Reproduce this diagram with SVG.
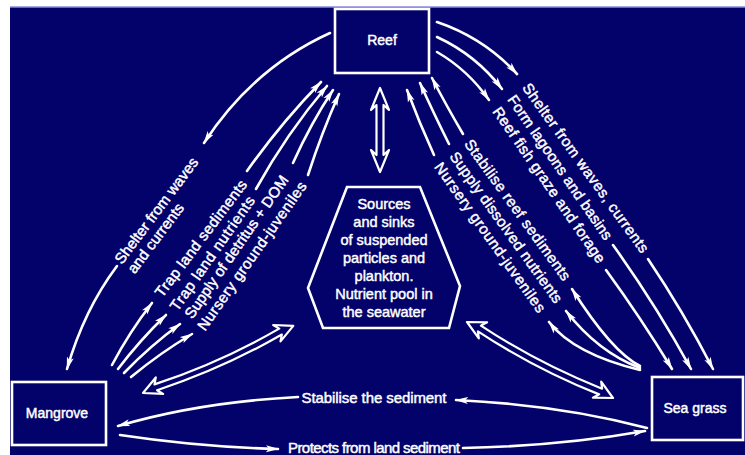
<svg xmlns="http://www.w3.org/2000/svg" width="745" height="455" viewBox="0 0 745 455">
<defs>
<marker id="ah" viewBox="0 0 13 8" refX="12" refY="4" markerWidth="13" markerHeight="8" markerUnits="userSpaceOnUse" orient="auto"><path d="M0,0.5 L13,4 L0,7.5 L3,4 Z" fill="#fff"/></marker>
<path id="dbl" d="M0,0 L18,-9 L14,-3.2 Q82,3.8 150.6,-3.2 L146.6,-9 L164.6,0 L146.6,9 L150.6,3.2 Q82,10.2 14,3.2 L18,9 Z"/>
</defs>
<style>
.box{fill:none;stroke:#fff;stroke-width:2.6}
.ln{fill:none;stroke:#fff;stroke-width:2.6;stroke-linecap:round;marker-end:url(#ah)}
.hol{fill:#03026a;stroke:#fff;stroke-width:2.2;stroke-linejoin:round}
text{font-family:"Liberation Sans",Arial,sans-serif;fill:#fff;stroke:#fff;stroke-width:0.45;font-size:15px}
.m{text-anchor:middle}
</style>
<rect x="0" y="0" width="745" height="455" fill="#fff"/>
<rect x="10" y="7" width="735" height="448" fill="#03026a"/>
<line x1="10" y1="7" x2="745" y2="7" stroke="#8a8ae0" stroke-width="1.5"/>

<g id="node-reef">
<rect class="box" x="335" y="9" width="94" height="64"/>
<text class="m" x="382" y="45" style="font-size:14px">Reef</text>
</g>
<g id="node-mangrove">
<rect class="box" x="12" y="382" width="94" height="63"/>
<text class="m" x="57" y="418" style="font-size:14px">Mangrove</text>
</g>
<g id="node-seagrass">
<rect class="box" x="652" y="377" width="91" height="63"/>
<text class="m" x="695" y="413" style="font-size:14px">Sea grass</text>
</g>
<g id="node-pool">
<polygon class="box" points="347,187 420,187 460,286 449,328 323,328 308,288"/>
<text class="m" style="font-size:14.5px"><tspan x="384" y="208.5">Sources</tspan><tspan x="384" y="226.5">and sinks</tspan><tspan x="384" y="244.5">of suspended</tspan><tspan x="384" y="262.5">particles and</tspan><tspan x="384" y="280.5">plankton.</tspan><tspan x="384" y="298.5">Nutrient pool in</tspan><tspan x="384" y="316.5">the seawater</tspan></text>
</g>

<g id="connectors">
<!-- hollow double arrows -->
<path class="hol" d="M380,88 L389,110 L383.5,105 L383.5,155 L389,150 L380,172 L371,150 L376.5,155 L376.5,105 L371,110 Z"/>
<use href="#dbl" class="hol" transform="translate(143,393) rotate(-24.07)"/>
<use href="#dbl" class="hol" transform="translate(467,322) rotate(27.5)"/>

<!-- Mangrove <-> Reef: shelter -->
<path class="ln" d="M330,33 Q253,68 204,143"/>
<path class="ln" d="M117,266 Q84,310 67,369"/>
<g transform="translate(118,262) rotate(-53.1)">
<text x="0" y="5">Shelter from waves</text>
<text x="0" y="21">and currents</text>
</g>

<!-- Mangrove -> Reef fan -->
<path class="ln" d="M112,365 Q130,331 152,303"/>
<path class="ln" d="M118,369 Q140,340 166,315"/>
<path class="ln" d="M124,373 Q150,346 180,324"/>
<path class="ln" d="M131,377 Q160,353 192,334"/>
<path class="ln" d="M247,171 Q281,123 321,82"/>
<path class="ln" d="M256,189 Q287,133 327,86"/>
<path class="ln" d="M293,163 Q311,123 333,90"/>
<path class="ln" d="M308,175 Q322,132 339,94"/>
<text class="m" transform="translate(201,238.5) rotate(-53.1)" y="5" textLength="142">Trap land sediments</text>
<text class="m" transform="translate(212.5,253.5) rotate(-55)" y="5" textLength="136">Trap land nutrients</text>
<text class="m" transform="translate(236.5,247) rotate(-55.3)" y="5" textLength="170">Supply of detritus + DOM</text>
<text class="m" transform="translate(252,256) rotate(-54.9)" y="5" textLength="178">Nursery ground-juveniles</text>

<!-- Reef -> Sea grass outer -->
<path class="ln" d="M437,22 Q484,38 517,74"/>
<path class="ln" d="M437,37 Q476,55 502,89"/>
<path class="ln" d="M437,52 Q468,70 489,100"/>
<path class="ln" d="M648,259 Q683,311 713,369"/>
<path class="ln" d="M613,245 Q656,305 691,369"/>
<path class="ln" d="M606,270 Q641,318 672,369"/>
<text class="m" transform="translate(585.5,168) rotate(54.3)" y="5" textLength="205">Shelter from waves, currents</text>
<text class="m" transform="translate(560,167.5) rotate(55.4)" y="5" textLength="172">Form lagoons and basins</text>
<text class="m" transform="translate(549,185) rotate(55.3)" y="5" textLength="186">Reef fish graze and forage</text>

<!-- Sea grass -> Reef inner -->
<path class="ln" d="M463,134 Q446,105 432,78"/>
<path class="ln" d="M449,144 Q433,112 420,83"/>
<path class="ln" d="M434,155 Q419,122 407,90"/>
<path class="ln" d="M640,366 Q612,352 572,289"/>
<path class="ln" d="M640,368 Q598,352 566,311"/>
<path class="ln" d="M640,370 Q574,354 549,322"/>
<text class="m" transform="translate(517.5,210) rotate(54.2)" y="5" textLength="170">Stabilise reef sediments</text>
<text class="m" transform="translate(506,227.5) rotate(54.4)" y="5" textLength="182">Supply dissolved nutrients</text>
<text class="m" transform="translate(490,237.5) rotate(54.6)" y="5" textLength="180">Nursery ground-juveniles</text>

<!-- bottom arrows -->
<path class="ln" d="M647,428 Q560,405 456,400"/>
<path class="ln" d="M298,397 Q200,402 118,426"/>
<text class="m" x="374" y="402.5" textLength="145">Stabilise the sediment</text>
<path class="ln" d="M120,435 Q200,447 278,449"/>
<path class="ln" d="M463,448 Q560,446 645,431"/>
<text class="m" x="374" y="453" textLength="172">Protects from land sediment</text>
</g>
</svg>
